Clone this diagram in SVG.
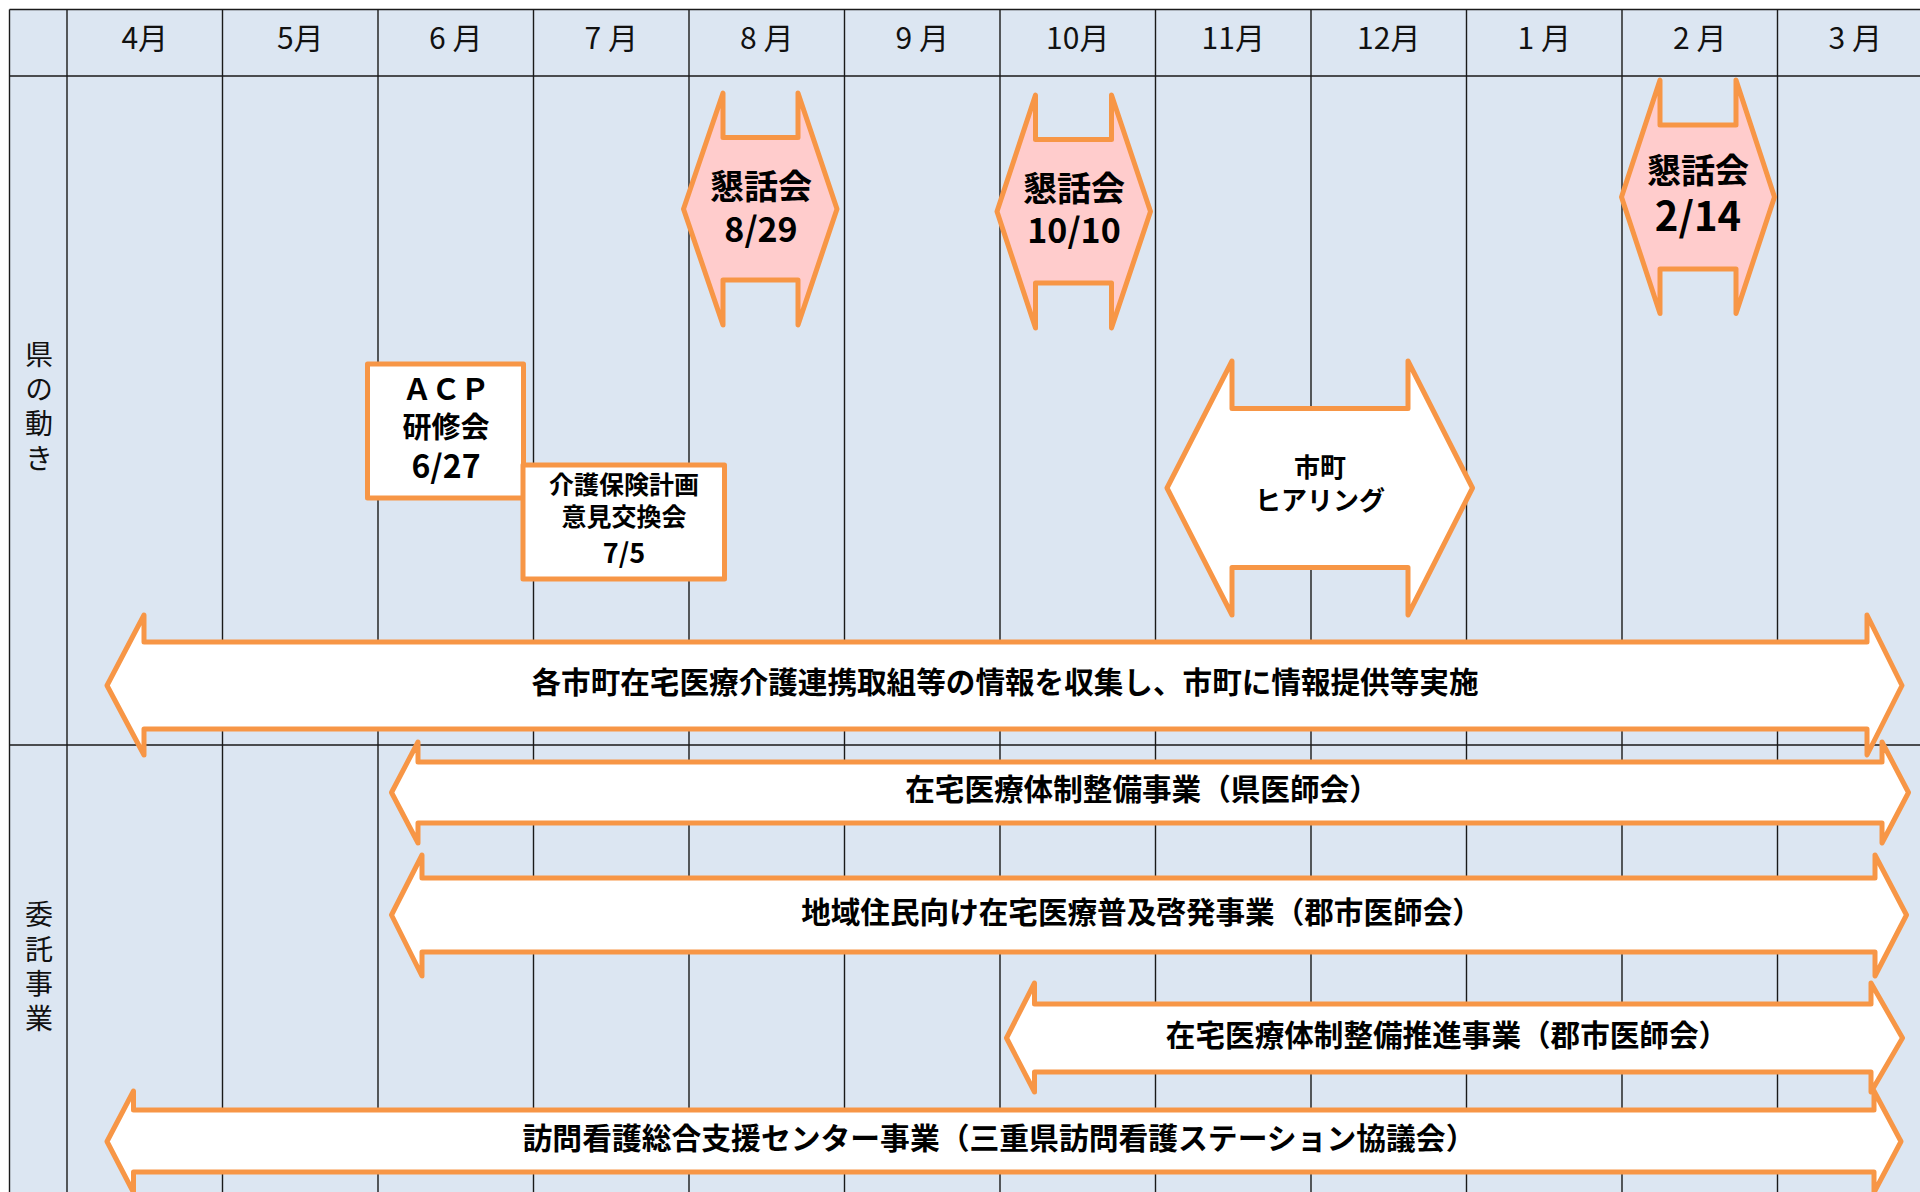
<svg xmlns="http://www.w3.org/2000/svg" width="1920" height="1192" viewBox="0 0 1920 1192">
<style>
.bg{fill:#DCE6F2}
.gl{stroke:#1a1a1a;stroke-width:1.4;fill:none}
.sh{stroke:#F79646;stroke-width:5;stroke-linejoin:round}
.w{fill:#FFFFFF}
.pk{fill:#FFCCCC}
.mo{font-family:"Noto Sans CJK JP","Noto Sans",sans-serif;font-size:30px;fill:#111;text-anchor:middle;dominant-baseline:central}
.lb{font-family:"Noto Sans CJK JP",sans-serif;font-size:28px;fill:#111;writing-mode:vertical-rl;letter-spacing:6.5px}
.t{font-family:"Noto Sans CJK JP",sans-serif;font-weight:bold;fill:#000;text-anchor:middle;dominant-baseline:central}
.bar{font-size:29.6px}
</style>
<g id="grid">
<rect class="bg" x="9.5" y="9.5" width="1911" height="1183"/>
<path class="gl" d="M9.5 9.5H1920M9.5 76H1920M9.5 745H1920M9.5 9.5V1192M67 9.5V1192M222.5 9.5V1192M378 9.5V1192M533.5 9.5V1192M689 9.5V1192M844.5 9.5V1192M1000 9.5V1192M1155.5 9.5V1192M1311 9.5V1192M1466.5 9.5V1192M1622 9.5V1192M1777.5 9.5V1192"/>
</g>
<g id="months">
<text class="mo" x="144.75" y="35.5">4月</text>
<text class="mo" x="300.25" y="35.5">5月</text>
<text class="mo" x="455.75" y="35.5">6 月</text>
<text class="mo" x="611.25" y="35.5">7 月</text>
<text class="mo" x="766.75" y="35.5">8 月</text>
<text class="mo" x="922.25" y="35.5">9 月</text>
<text class="mo" x="1077.75" y="35.5">10月</text>
<text class="mo" x="1233.25" y="35.5">11月</text>
<text class="mo" x="1388.75" y="35.5">12月</text>
<text class="mo" x="1544.25" y="35.5">1 月</text>
<text class="mo" x="1699.75" y="35.5">2 月</text>
<text class="mo" x="1855.25" y="35.5">3 月</text>
</g>
<g id="row-labels">
<text class="lb" x="39" y="340.5">県の動き</text>
<text class="lb" x="39" y="900.5">委託事業</text>
</g>
<g id="connectors"></g>
<g id="kondankai-0829">
<path class="sh pk" d="M683.5 209L723 93L723 137.5L798 137.5L798 93L837 209L798 325L798 280L723 280L723 325Z"/>
<text class="t" font-size="34"><tspan x="761" y="183.5">懇話会</tspan><tspan x="761" y="226.5">8/29</tspan></text>
</g>
<g id="kondankai-1010">
<path class="sh pk" d="M997 211.5L1035.5 95L1035.5 139.5L1111.5 139.5L1111.5 95L1150.5 211.5L1111.5 328L1111.5 283L1035.5 283L1035.5 328Z"/>
<text class="t" font-size="34"><tspan x="1074" y="185.5">懇話会</tspan><tspan x="1074" y="227.5">10/10</tspan></text>
</g>
<g id="kondankai-0214">
<path class="sh pk" d="M1621.5 197L1660 80L1660 125L1736 125L1736 80L1774.5 197L1736 313.5L1736 269L1660 269L1660 313.5Z"/>
<text class="t" font-size="34"><tspan x="1698" y="167.5">懇話会</tspan><tspan x="1698" y="214" font-size="40">2/14</tspan></text>
</g>
<g id="acp">
<rect class="sh w" x="367.5" y="364" width="156" height="134"/>
<text class="t" font-size="29"><tspan x="446" y="387">ＡＣＰ</tspan><tspan x="446" y="425">研修会</tspan><tspan x="446" y="464" font-size="32">6/27</tspan></text>
</g>
<g id="kaigo-hoken">
<rect class="sh w" x="523" y="465" width="201.5" height="114"/>
<text class="t" font-size="25"><tspan x="624" y="483">介護保険計画</tspan><tspan x="624" y="515">意見交換会</tspan><tspan x="624" y="551" font-size="27">7/5</tspan></text>
</g>
<g id="shicho-hearing">
<path class="sh w" d="M1167 488L1232 361L1232 408.5L1408 408.5L1408 361L1472.5 488L1408 615L1408 567.5L1232 567.5L1232 615Z"/>
<text class="t" font-size="26"><tspan x="1320" y="464.5">市町</tspan><tspan x="1320" y="498">ヒアリング</tspan></text>
</g>
<g id="bar-joho">
<path class="sh w" d="M107 685.5L144 615L144 642L1867 642L1867 615L1902 685.5L1867 755L1867 729L144 729L144 755Z"/>
<text class="t bar" x="1005" y="680.5">各市町在宅医療介護連携取組等の情報を収集し、市町に情報提供等実施</text>
</g>
<g id="bar-kenishikai">
<path class="sh w" d="M391.5 792.5L418 742L418 762L1882 762L1882 742L1908.5 792.5L1882 843L1882 823L418 823L418 843Z"/>
<text class="t bar" x="1142" y="787.5">在宅医療体制整備事業（県医師会）</text>
</g>
<g id="bar-fukyu">
<path class="sh w" d="M391.5 915L422 855L422 878L1875 878L1875 855L1906.5 915L1875 976L1875 952L422 952L422 976Z"/>
<text class="t bar" x="1141.5" y="910.5">地域住民向け在宅医療普及啓発事業（郡市医師会）</text>
</g>
<g id="bar-suishin">
<path class="sh w" d="M1006.5 1038L1034.5 983L1034.5 1004L1871 1004L1871 983L1902.5 1038L1871 1092L1871 1072L1034.5 1072L1034.5 1092Z"/>
<text class="t bar" x="1447" y="1033.5">在宅医療体制整備推進事業（郡市医師会）</text>
</g>
<g id="bar-houmon">
<path class="sh w" d="M107 1141.5L133.5 1091L133.5 1110L1874 1110L1874 1091L1901 1141.5L1874 1192.5L1874 1172L133.5 1172L133.5 1192.5Z"/>
<text class="t" x="999" y="1135.5" font-size="29.8">訪問看護総合支援センター事業（三重県訪問看護ステーション協議会）</text>
</g>
</svg>
